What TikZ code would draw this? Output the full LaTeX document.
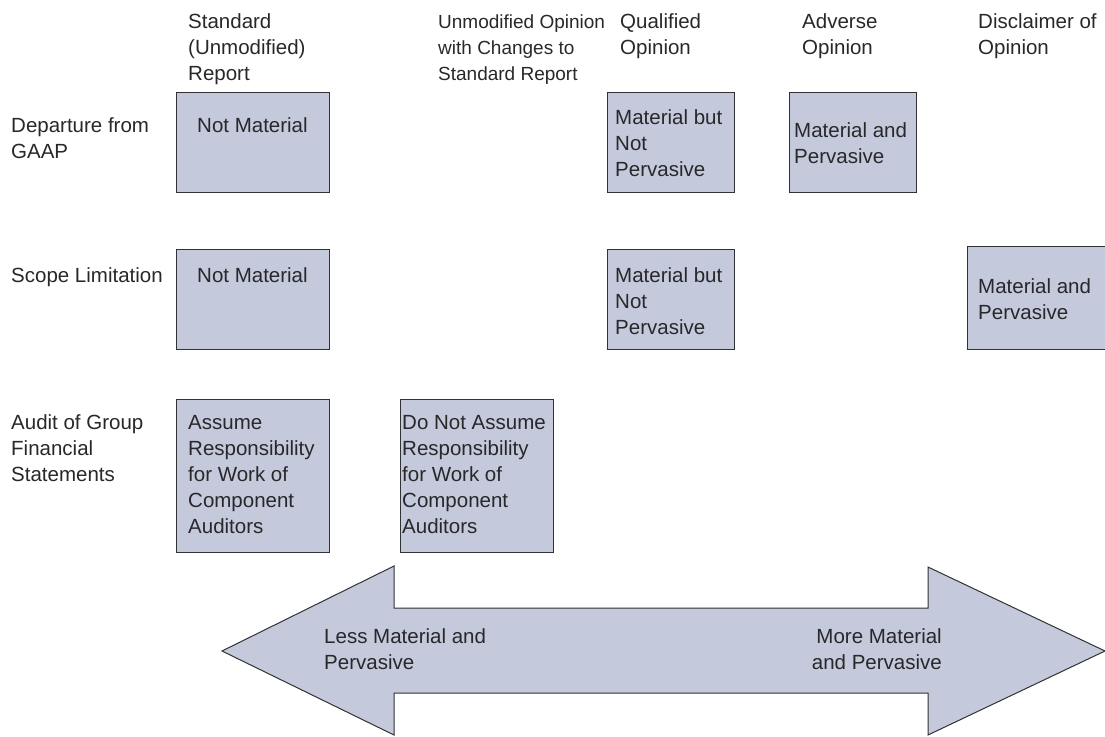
\documentclass[tikz,border=0pt]{standalone}
\usepackage{fontspec}
\setmainfont{Liberation Sans}
\definecolor{boxfill}{RGB}{197,201,220}
\definecolor{boxline}{RGB}{50,50,52}
\definecolor{ink}{RGB}{40,40,42}
\begin{document}
\begin{tikzpicture}[x=1pt,y=-1pt,
  % multi-line texts are placed by the baseline of their last line
  txt/.style={anchor=base west,inner sep=0pt,align=left,text=ink,
    font=\fontsize{20.5pt}{26pt}\selectfont},
  cell/.style={draw=boxline,fill=boxfill,line width=1pt,rectangle,
    anchor=north west,inner sep=0pt,minimum width=153pt,minimum height=100pt},
  bigarrow/.style={draw=boxline,fill=boxfill,line width=1pt,line join=miter}]
\useasboundingbox (0,0) rectangle (1105,736);

% column headings
\node[txt] (h1) at (188,80) {Standard\\(Unmodified)\\Report};
\node[txt,font=\fontsize{19pt}{26pt}\selectfont] (h2) at (438,80)
  {Unmodified Opinion\\with Changes to\\Standard Report};
\node[txt] (h3) at (620,54) {Qualified\\Opinion};
\node[txt] (h4) at (802,54) {Adverse\\Opinion};
\node[txt] (h5) at (978,54) {Disclaimer of\\Opinion};

% row headings
\node[txt] (r1) at (11,158) {Departure from\\GAAP};
\node[txt] (r2) at (11,282) {Scope Limitation};
\node[txt] (r3) at (11,481) {Audit of Group\\Financial\\Statements};

% row 1: departure from GAAP
\node[cell] (b11) at (176,92) {};
\node[cell,minimum width=127pt] (b13) at (607,92) {};
\node[cell,minimum width=127pt] (b14) at (789,92) {};
\node[txt] (t11) at (197,132) {Not Material};
\node[txt] (t13) at (615,176) {Material but\\Not\\Pervasive};
\node[txt] (t14) at (794,163) {Material and\\Pervasive};

% row 2: scope limitation
\node[cell] (b21) at (176,249) {};
\node[cell,minimum width=127pt] (b23) at (607,249) {};
\node[cell,minimum width=150pt,minimum height=103pt] (b25) at (967,246) {};
\node[txt] (t21) at (197,282) {Not Material};
\node[txt] (t23) at (615,334) {Material but\\Not\\Pervasive};
\node[txt] (t25) at (978,319) {Material and\\Pervasive};

% row 3: group audits
\node[cell,minimum height=153pt] (b31) at (176,399) {};
\node[cell,minimum height=153pt] (b32) at (400,399) {};
\node[txt] (t31) at (188,533) {Assume\\Responsibility\\for Work of\\Component\\Auditors};
\node[txt] (t32) at (402,533) {Do Not Assume\\Responsibility\\for Work of\\Component\\Auditors};

% double-headed scale arrow
\path[bigarrow] (222,651) -- (394,566) -- (394,608) -- (928,608) -- (928,567)
  -- (1105,651) -- (928,735) -- (928,693) -- (394,693) -- (394,735) -- cycle;
\node[txt] (lo) at (324,669) {Less Material and\\Pervasive};
\node[txt,align=right,anchor=base east] (hi) at (942,669) {More Material\\and Pervasive};
\end{tikzpicture}
\end{document}
